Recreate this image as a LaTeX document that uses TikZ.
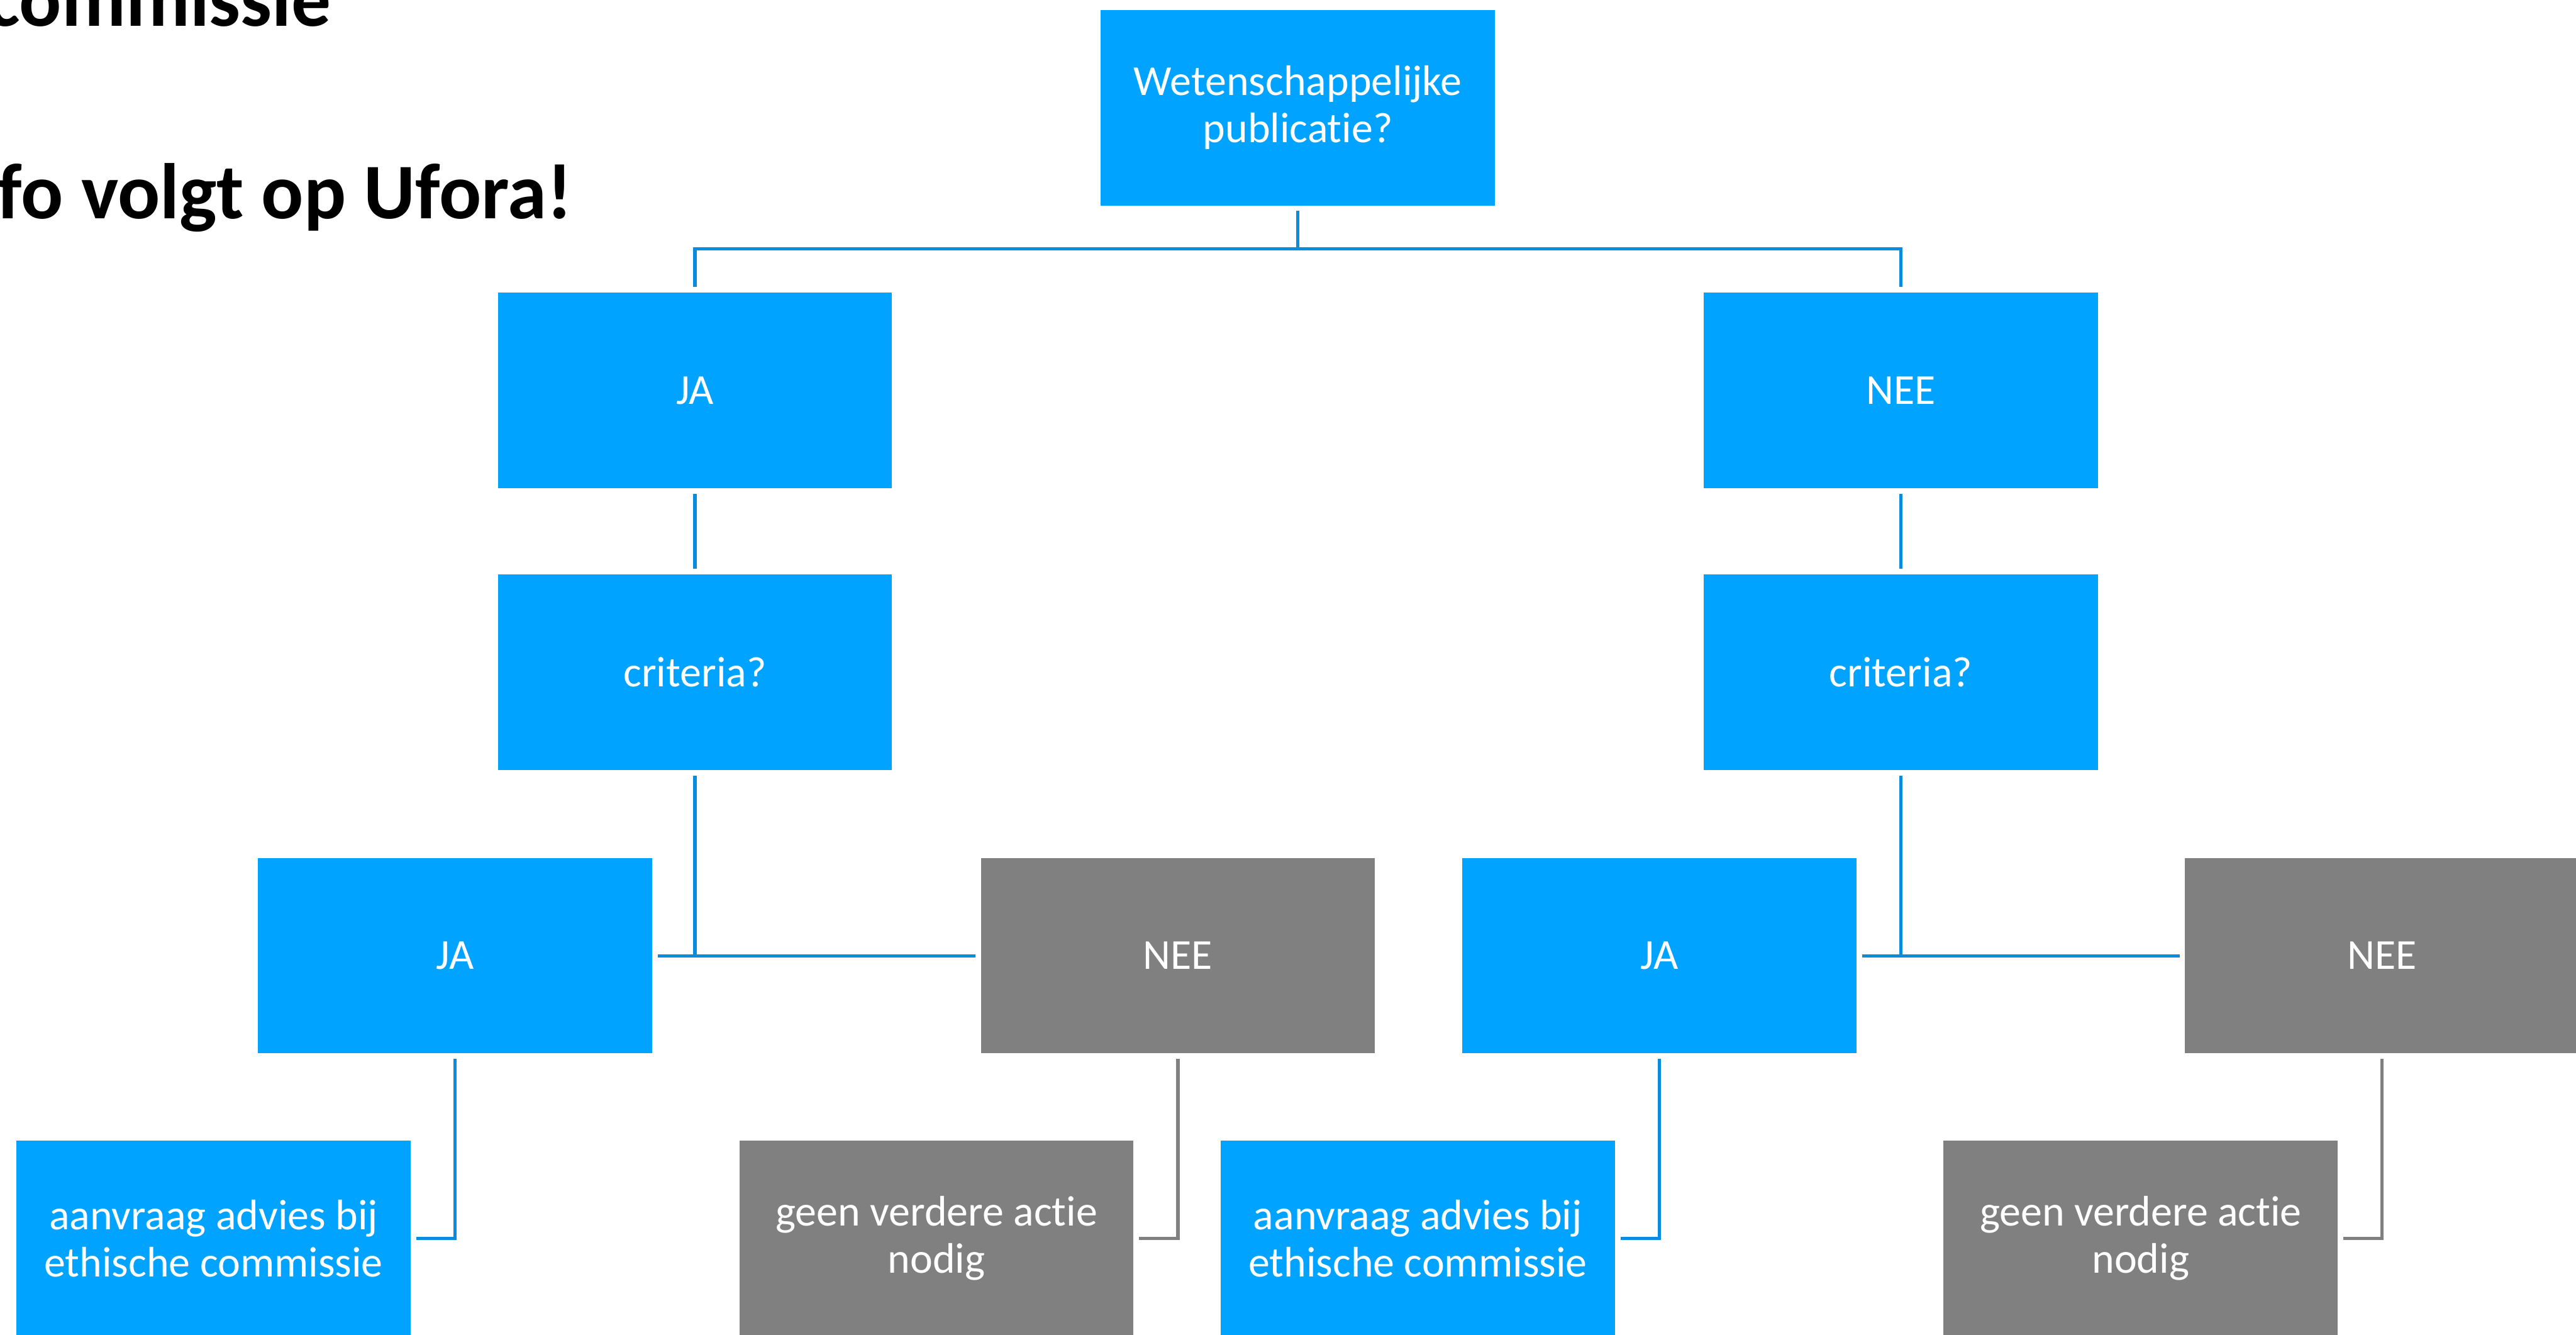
\documentclass[tikz,border=0pt]{standalone}
\usepackage{fontspec}
\setmainfont{Carlito}[Ligatures=NoCommon]
\usetikzlibrary{positioning,calc}
\definecolor{boxblue}{RGB}{0,163,255}
\definecolor{lineblue}{RGB}{10,140,222}
\definecolor{boxgrey}{RGB}{128,128,128}
\tikzset{box/.style={rectangle,fill=boxblue,text=white,minimum width=4.8cm,minimum height=2.38cm,inner sep=0pt,align=center,font=\fontsize{14.8}{16.4}\selectfont}}
\tikzset{greybox/.style={box,fill=boxgrey}}
\tikzset{link/.style={draw=lineblue,line width=1.1pt,shorten <=0.06cm,shorten >=0.06cm}}
\tikzset{greylink/.style={link,draw=boxgrey}}
\tikzset{heading/.style={inner sep=0pt,font=\fontsize{27.3}{30}\selectfont\bfseries}}

\begin{document}
\begin{tikzpicture}
  \useasboundingbox (0,0) rectangle (31.36,-16.24);
  \clip (0,0) rectangle (31.36,-16.24);
  \fill[white] (0,0) rectangle (31.36,-16.24);

  % slide text left over
  \node[heading,anchor=base east] (titel) at (4.04,-0.32) {commissie};
  \node[heading,anchor=base west] (info) at (-0.04,-2.66) {fo volgt op Ufora!};

  % boxes
  \node[box] (top) at (15.8,-1.31) {Wetenschappelijke\\publicatie?};
  \node[box] (ja1) at (8.46,-4.75) {JA};
  \node[box] (nee1) at (23.14,-4.75) {NEE};
  \node[box] (crit1) at (8.46,-8.18) {criteria?};
  \node[box] (crit2) at (23.14,-8.18) {criteria?};
  \node[box] (ja3) at (5.54,-11.63) {JA};
  \node[greybox] (nee3) at (14.34,-11.63) {NEE};
  \node[box] (ja4) at (20.2,-11.63) {JA};
  \node[greybox] (nee4) at (29.0,-11.63) {NEE};
  \node[box] (adv1) at (2.6,-15.07) {aanvraag advies bij\\ethische commissie};
  \node[greybox] (geen1) at (11.4,-15.07) {geen verdere actie\\nodig};
  \node[box] (adv2) at (17.26,-15.07) {aanvraag advies bij\\ethische commissie};
  \node[greybox] (geen2) at (26.06,-15.07) {geen verdere actie\\nodig};

  % connectors
  \draw[link] (top.south) -- ++(0,-0.52) -| (ja1.north);
  \draw[link,shorten <=0pt] (top.south) ++(0,-0.52) -| (nee1.north);
  \draw[link] (ja1.south) -- (crit1.north);
  \draw[link] (nee1.south) -- (crit2.north);

  \draw[link,shorten >=0pt] (crit1.south) -- (crit1.south |- ja3.east);
  \draw[link] (ja3.east) -- (nee3.west);
  \draw[link,shorten >=0pt] (crit2.south) -- (crit2.south |- ja4.east);
  \draw[link] (ja4.east) -- (nee4.west);

  \draw[link] (ja3.south) |- (adv1.east);
  \draw[greylink] (nee3.south) |- (geen1.east);
  \draw[link] (ja4.south) |- (adv2.east);
  \draw[greylink] (nee4.south) |- (geen2.east);
\end{tikzpicture}
\end{document}
